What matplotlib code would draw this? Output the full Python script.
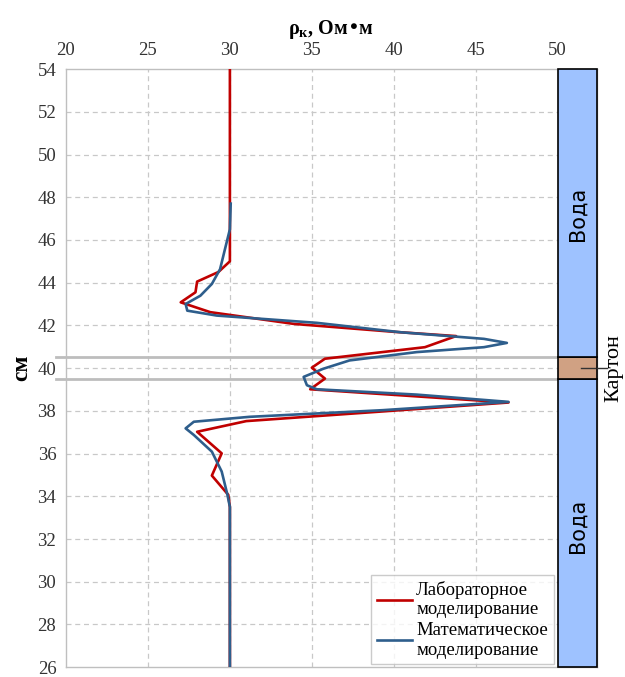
import matplotlib.pyplot as plt
from matplotlib.patches import Rectangle

# resistivity profiles: apparent resistivity (Ohm*m) vs depth (cm)
lab_rho = [30.0, 30.0, 29.3, 28.0, 27.9, 27.0, 28.8, 33.9, 40.0, 43.8, 41.9,
           35.8, 35.0, 35.8, 34.9, 47.0, 31.0, 28.0, 29.5, 28.9, 29.9, 30.0, 30.0]
lab_depth = [54.0, 45.0, 44.5, 44.05, 43.55, 43.08, 42.62, 42.07, 41.7, 41.5, 40.98,
             40.44, 40.02, 39.51, 39.01, 38.39, 37.52, 37.02, 36.01, 34.97, 34.07, 33.5, 26.0]

math_rho = [30.05, 30.0, 29.7, 29.4, 28.9, 28.2, 27.3, 27.4, 29.2, 35.3, 40.4, 45.5,
            46.9, 45.5, 41.4, 37.3, 35.7, 34.5, 34.7, 35.3, 41.4, 47.0, 39.3, 31.2,
            27.8, 27.3, 27.8, 28.9, 29.5, 29.85, 30.0, 30.0]
math_depth = [47.7, 46.5, 45.57, 44.63, 43.94, 43.39, 43.0, 42.69, 42.46, 42.12, 41.68,
              41.37, 41.18, 40.98, 40.75, 40.36, 39.97, 39.59, 39.2, 39.01, 38.76, 38.42,
              38.03, 37.72, 37.49, 37.18, 36.87, 36.09, 35.16, 34.07, 33.5, 26.0]

# column of layers on the right side
layer_bounds = [(26.0, 39.5), (39.5, 40.5), (40.5, 54.0)]
layer_colors = ['#9EC2FF', '#D0A183', '#9EC2FF']
water_label = 'Вода'
card_label = 'Картон'

x_ticks = [20, 25, 30, 35, 40, 45, 50]
y_ticks = list(range(26, 55, 2))

plt.rcParams['font.family'] = ['Liberation Serif', 'DejaVu Serif']

fig = plt.figure(figsize=(6.25, 6.77), dpi=100)
ax = fig.add_axes([0.1056, 0.0145, 0.8496, 0.8835])

ax.set_xlim(20, 52.4)
ax.set_ylim(26, 54)
ax.xaxis.tick_top()
ax.xaxis.set_label_position('top')
ax.set_xticks(x_ticks)
ax.set_yticks(y_ticks)
ax.tick_params(axis='both', length=0, labelsize=13.5, colors='#333333')
ax.tick_params(axis='x', pad=7)
ax.tick_params(axis='y', pad=7)
ax.set_xlabel('ρ$_\\mathregular{к}$, Ом•м', fontsize=14.5, fontweight='bold', labelpad=6)
ax.set_ylabel('см', fontsize=17, fontweight='bold', labelpad=4)

for v in x_ticks[1:-1]:
    ax.axvline(v, color='#C8C8C8', lw=0.9, ls=(0, (4, 3)), zorder=0)
for v in y_ticks[1:-1]:
    ax.axhline(v, color='#C8C8C8', lw=0.9, ls=(0, (4, 3)), zorder=0)

for sp in ax.spines.values():
    sp.set_color('#BFBFBF')
    sp.set_linewidth(1.0)

# boundaries of the cardboard layer
for b in (39.5, 40.5):
    ax.plot([19.4, 50], [b, b], color='#BDBDBD', lw=2, clip_on=False, zorder=1)

for (lo, hi), c in zip(layer_bounds, layer_colors):
    ax.add_patch(Rectangle((50, lo), 2.4, hi - lo, facecolor=c, edgecolor='black',
                           lw=1.2, zorder=3, clip_on=False))

ax.text(51.2, 47.2, water_label, rotation=90, ha='center', va='center', fontsize=15, zorder=4,
        family=['DejaVu Sans'])
ax.text(51.2, 32.6, water_label, rotation=90, ha='center', va='center', fontsize=15, zorder=4,
        family=['DejaVu Sans'])
ax.plot([51.4, 52.3], [40, 40], color='#333333', lw=1, zorder=4)
ax.plot([52.4, 53.0], [40, 40], color='#333333', lw=1, zorder=4, clip_on=False)
ax.text(52.85, 40, card_label, rotation=90, ha='left', va='center', fontsize=16,
        clip_on=False)

ax.plot(lab_rho, lab_depth, color='#C00000', lw=1.9, label='Лабораторное\nмоделирование', zorder=5)
ax.plot(math_rho, math_depth, color='#2E5E8C', lw=1.9, label='Математическое\nмоделирование', zorder=6)

leg = ax.legend(loc='lower right', bbox_to_anchor=(0.9235, 0.0), fontsize=13.5, frameon=True,
                fancybox=False, edgecolor='#BFBFBF', handlelength=1.9, handletextpad=0.2,
                borderpad=0.3, labelspacing=0.2, borderaxespad=0.15)
leg.get_frame().set_linewidth(1.0)
leg.set_zorder(7)

fig.savefig('out.png', dpi=100)
